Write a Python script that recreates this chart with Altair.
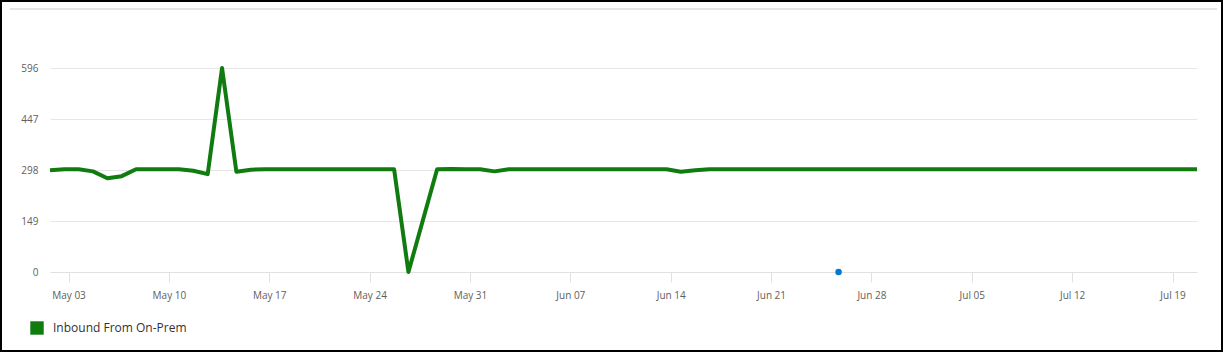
import altair as alt
import pandas as pd

# ---- data ----
series_name = "Inbound From On-Prem"
start = "2020-05-01T17:00:00"
values = [
    297, 300, 300, 294, 274, 280, 300, 300, 300, 300,   # k0-9
    296, 286, 596, 293, 299, 300, 300, 300, 300, 300,   # k10-19
    300, 300, 300, 300, 300, 0, None, 300, 301, 300,    # k20-29
    300, 294, 300, 300, 300, 300, 300, 300, 300, 300,   # k30-39
    300, 300, 300, 300, 293, 297, 300, 300, 300, 300,   # k40-49
    300, 300, 300, 300, 300, 300, 300, 300, 300, 300,   # k50-59
    300, 300, 300, 300, 300, 300, 300, 300, 300, 300,   # k60-69
    300, 300, 300, 300, 300, 300, 300, 300, 300, 300,   # k70-79
    300,                                                # k80
]
marker_time = ["2020-06-25T17:00:00"]
marker_value = [0]
y_ticks = [0, 149, 298, 447, 596]
x_tick_days = [(5, 3), (5, 10), (5, 17), (5, 24), (5, 31), (6, 7), (6, 14),
               (6, 21), (6, 28), (7, 5), (7, 12), (7, 19)]

times = pd.date_range(start, periods=len(values), freq="D")
df = pd.DataFrame({"time": times.strftime("%Y-%m-%dT%H:%M:%S"),
                   "value": values, "series": series_name}).dropna()
mk = pd.DataFrame({"time": marker_time, "value": marker_value})

W, H = 1147, 255
x_scale = alt.Scale(domain=[alt.DateTime(year=2020, month=5, date=1, hours=17),
                            alt.DateTime(year=2020, month=7, date=20, hours=17)],
                    nice=False)
y_scale = alt.Scale(domain=[0, 745], nice=False)

x_axis = alt.Axis(title=None, values=[alt.DateTime(year=2020, month=m, date=d) for m, d in x_tick_days],
                  format="%b %d", grid=False, tickSize=10, tickColor="#e1e1e1",
                  domainColor="#e1e1e1", labelColor="#605e5c", labelFontSize=10,
                  labelPadding=8, labelFont="Open Sans")
y_axis = alt.Axis(title=None, values=y_ticks, grid=True, gridColor="#e6e6e6",
                  ticks=False, domain=False, labelColor="#605e5c", labelFontSize=10,
                  labelPadding=12, labelFont="Open Sans")

line = alt.Chart(df).mark_line(strokeWidth=4, strokeJoin="round").encode(
    x=alt.X("time:T", scale=x_scale, axis=x_axis),
    y=alt.Y("value:Q", scale=y_scale, axis=y_axis),
    color=alt.Color("series:N",
                    scale=alt.Scale(domain=[series_name], range=["#107c10"]),
                    legend=alt.Legend(title=None, orient="none", legendX=-20, legendY=304,
                                      symbolType="square", symbolSize=180,
                                      symbolFillColor="#107c10", symbolStrokeWidth=0,
                                      labelFontSize=12, labelColor="#323130",
                                      labelFont="Open Sans", padding=0, labelOffset=9)),
)

dot = alt.Chart(mk).mark_circle(size=42, color="#0078d4", opacity=1).encode(
    x=alt.X("time:T", scale=x_scale),
    y=alt.Y("value:Q", scale=y_scale),
)

topline = alt.Chart(mk).mark_rule(color="#cccccc", strokeWidth=1).encode(
    x=alt.value(-40), x2=alt.value(1167), y=alt.value(-8)
)

frame = alt.Chart(mk).mark_rect(fill=None, stroke="black", strokeWidth=2).encode(
    x=alt.value(-49), x2=alt.value(1172), y=alt.value(-16), y2=alt.value(334)
)

chart = alt.layer(topline, line, dot, frame).properties(
    width=W, height=H,
    autosize=alt.AutoSizeParams(type="none"),
    padding={"left": 50, "top": 17, "right": 26, "bottom": 80},
    background="white",
).configure_view(stroke=None)

chart.save("out.html", embed_options={"renderer": "svg", "actions": False})
